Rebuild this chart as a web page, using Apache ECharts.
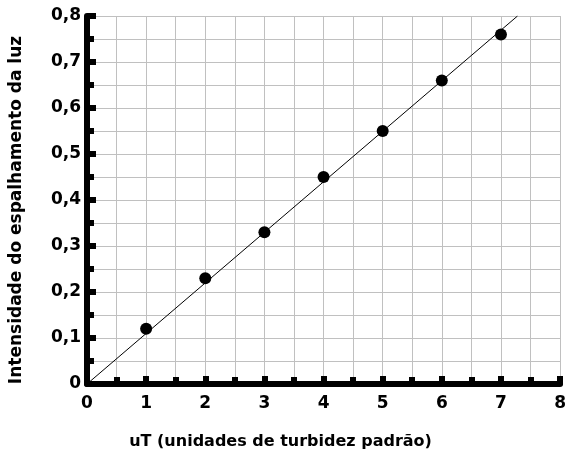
<!DOCTYPE html>
<html>
<head>
<meta charset="utf-8">
<script src="https://cdn.jsdelivr.net/npm/echarts@6/dist/echarts.min.js"></script>
<style>
  html, body { margin: 0; padding: 0; background: #fff; }
  #chart { width: 569px; height: 459px; }
</style>
</head>
<body>
<div id="chart"></div>
<script>
// pontos medidos
var turbX = [1, 2, 3, 4, 5, 6, 7];
var intensY = [0.12, 0.23, 0.33, 0.45, 0.55, 0.66, 0.76];
// reta ajustada (extremos)
var fitX = [0, 7.28];
var fitY = [0, 0.8];

var font = '"DejaVu Sans", Verdana, sans-serif';
var grey = '#c0c0c0';

var chart = echarts.init(document.getElementById('chart'), null, { renderer: 'canvas' });

chart.setOption({
  animation: false,
  grid: { left: 87, right: 7, top: 16, bottom: 75, containLabel: false },
  xAxis: {
    type: 'value',
    min: 0, max: 8, interval: 1,
    name: 'uT (unidades de turbidez padrão)',
    nameLocation: 'middle',
    nameGap: 50,
    nameTextStyle: { fontFamily: font, fontWeight: 'bold', fontSize: 16, color: '#000', padding: [0, 86, 0, 0] },
    axisLine: { show: true, onZero: false, lineStyle: { color: '#000', width: 6 } },
    axisTick: { show: true, inside: true, length: 8, lineStyle: { color: '#000', width: 6 } },
    minorTick: { show: true, splitNumber: 2, length: 7, lineStyle: { color: '#000', width: 6 } },
    axisLabel: { fontFamily: font, fontWeight: 'bold', fontSize: 17, color: '#000', margin: 11 },
    splitLine: { show: true, lineStyle: { color: grey, width: 1 } },
    minorSplitLine: { show: true, lineStyle: { color: grey, width: 1 } }
  },
  yAxis: {
    type: 'value',
    min: 0, max: 0.8, interval: 0.1,
    name: 'Intensidade do espalhamento da luz',
    nameLocation: 'middle',
    nameGap: 62,
    nameRotate: 90,
    nameTextStyle: { fontFamily: font, fontWeight: 'bold', fontSize: 17, color: '#000', padding: [0, 20, 0, 0] },
    axisLine: { show: true, onZero: false, lineStyle: { color: '#000', width: 6 } },
    axisTick: { show: true, inside: true, length: 9, lineStyle: { color: '#000', width: 6 } },
    minorTick: { show: true, splitNumber: 2, length: 7, lineStyle: { color: '#000', width: 6 } },
    axisLabel: {
      fontFamily: font, fontWeight: 'bold', fontSize: 17, color: '#000', margin: 6,
      formatter: function (v) { return v === 0 ? '0' : v.toFixed(1).replace('.', ','); }
    },
    splitLine: { show: true, lineStyle: { color: grey, width: 1 } },
    minorSplitLine: { show: true, lineStyle: { color: grey, width: 1 } }
  },
  series: [
    {
      type: 'line',
      data: fitX.map(function (x, i) { return [x, fitY[i]]; }),
      showSymbol: false,
      lineStyle: { color: '#000', width: 1 },
      z: 3
    },
    {
      type: 'scatter',
      data: turbX.map(function (x, i) { return [x, intensY[i]]; }),
      symbol: 'circle',
      symbolSize: 12,
      itemStyle: { color: '#000', opacity: 1 },
      z: 4
    }
  ]
});
</script>
</body>
</html>
